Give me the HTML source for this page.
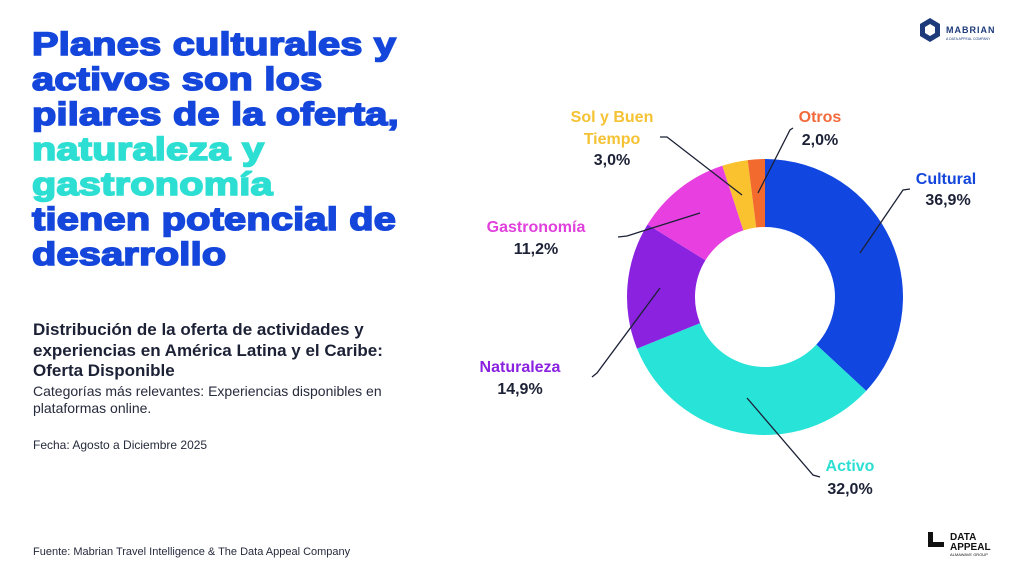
<!DOCTYPE html>
<html><head><meta charset="utf-8"><style>
body{margin:0;width:1024px;height:576px;background:#fff;position:relative;overflow:hidden;font-family:"Liberation Sans",sans-serif}
.t{position:absolute;left:32px;top:27px;font-weight:900;font-size:32px;line-height:35px;color:#1446dc;letter-spacing:0.2px;-webkit-text-stroke:1.6px currentColor;transform:scaleX(1.24);transform-origin:0 0;white-space:nowrap}
.t .c{color:#2ddfd2}
.s{position:absolute;left:33px;top:320px;font-weight:bold;font-size:17px;line-height:20.5px;color:#1c2136}
.b{position:absolute;left:33px;top:383px;font-size:14px;line-height:17px;color:#262b3d}
.f{position:absolute;left:33px;top:438px;font-size:12px;color:#262b3d}
.src{position:absolute;left:33px;top:546px;font-size:11px;color:#262b3d}
svg{position:absolute;left:0;top:0}
</style></head><body>
<div class="t">Planes culturales y<br>activos son los<br>pilares de la oferta,<br><span class="c">naturaleza y<br>gastronomía</span><br>tienen potencial de<br>desarrollo</div>
<div class="s">Distribución de la oferta de actividades y<br>experiencias en América Latina y el Caribe:<br>Oferta Disponible</div>
<div class="b">Categorías más relevantes: Experiencias disponibles en<br>plataformas online.</div>
<div class="f">Fecha: Agosto a Diciembre 2025</div>
<div class="src">Fuente: Mabrian Travel Intelligence &amp; The Data Appeal Company</div>
<svg id="g" width="1024" height="576" font-family="Liberation Sans, sans-serif" font-weight="bold" font-size="16">
<g id="sl"></g>
<g fill="none" stroke="#1c2136" stroke-width="1.3">
<polyline points="910,189 903,190 860,253"/>
<polyline points="820,477 813,475 747,398"/>
<polyline points="592,377 597,373 660,288"/>
<polyline points="618,237 627,236 700,213"/>
<polyline points="660,137 667,137 742,195"/>
<polyline points="793,128 790,130 758,193"/>
</g>
<g text-anchor="middle">
<text x="946" y="184" fill="#1446dc">Cultural</text><text x="948" y="205" fill="#1c2136">36,9%</text>
<text x="850" y="471" fill="#2ddfd2">Activo</text><text x="850" y="494" fill="#1c2136">32,0%</text>
<text x="520" y="372" fill="#8a22e0">Naturaleza</text><text x="520" y="394" fill="#1c2136">14,9%</text>
<text x="536" y="232" fill="#e040dc">Gastronomía</text><text x="536" y="254" fill="#1c2136">11,2%</text>
<text x="612" y="122" fill="#f4c233">Sol y Buen</text><text x="612" y="144" fill="#f4c233">Tiempo</text><text x="612" y="165" fill="#1c2136">3,0%</text>
<text x="820" y="122" fill="#f26a3a">Otros</text><text x="820" y="145" fill="#1c2136">2,0%</text>
</g>
<g transform="translate(918,18)">
<polygon points="12,0 22,6 22,18 12,24 2,18 2,6" fill="#1d3a7a"/>
<polygon points="12,6 17,9 17,15 12,18 7,15 7,9" fill="#fff"/>
<text x="28" y="15" font-size="9" fill="#1d3a7a" letter-spacing="1">MABRIAN</text>
<text x="28" y="22" font-size="3.5" font-weight="normal" fill="#1d3a7a">A DATA APPEAL COMPANY</text>
</g>
<g transform="translate(928,530)">
<rect x="0" y="2" width="5" height="14" fill="#111"/><rect x="0" y="12" width="16" height="5" fill="#111"/>
<text x="22" y="10" font-size="10" font-weight="900" fill="#111">DATA</text>
<text x="22" y="20" font-size="10" font-weight="900" fill="#111">APPEAL</text>
<text x="22" y="26" font-size="4" font-weight="normal" fill="#111">ALMAWAVE GROUP</text>
</g>
</svg>
<script>
var d=[[36.9,"#1146e0"],[32.0,"#27e3d8"],[14.9,"#8a22e0"],[11.2,"#e83fe0"],[3.0,"#f9c22e"],[2.0,"#f26a2e"]];
var cx=765,cy=297,R=138,r=70,a=0,h="";
function p(rad,ang){return [cx+rad*Math.sin(ang),cy-rad*Math.cos(ang)];}
d.forEach(function(s){var a1=a+s[0]/100*2*Math.PI,l=(a1-a)>Math.PI?1:0;
var A=p(R,a),B=p(R,a1),C=p(r,a1),D=p(r,a);
h+='<path fill="'+s[1]+'" d="M'+A+' A'+R+','+R+' 0 '+l+' 1 '+B+' L'+C+' A'+r+','+r+' 0 '+l+' 0 '+D+'Z"/>';a=a1;});
document.getElementById("sl").innerHTML=h;
</script>
</body></html>
